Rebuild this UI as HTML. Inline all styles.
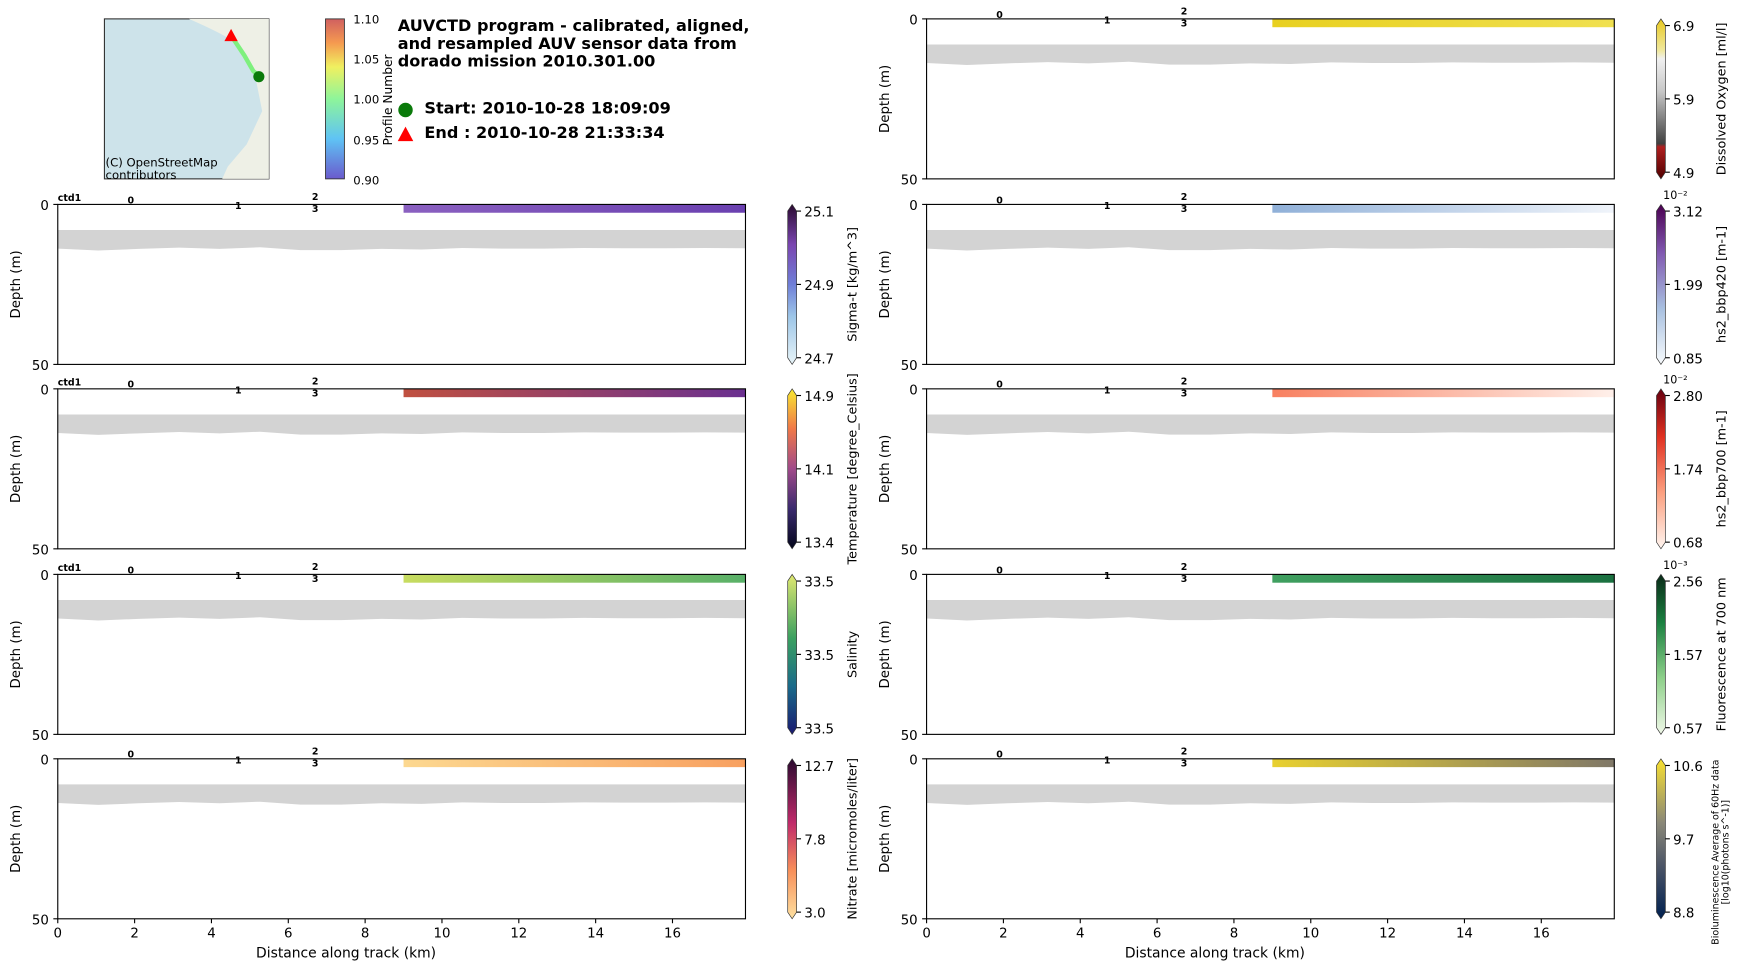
<!DOCTYPE html>
<html><head><meta charset="utf-8"><style>
body{margin:0;background:#fff;font-family:"Liberation Sans","DejaVu Sans",sans-serif;}
svg text{font-family:"DejaVu Sans","Liberation Sans",sans-serif;}
</style></head><body>
<svg id="fig" width="1741" height="972" xmlns="http://www.w3.org/2000/svg">
<defs>
<linearGradient id="gProf" x1="0" y1="1" x2="0" y2="0"><stop offset="0" stop-color="#6a5acd"/><stop offset="0.25" stop-color="#5fc3f5"/><stop offset="0.5" stop-color="#8ef59a"/><stop offset="0.7" stop-color="#f0f060"/><stop offset="0.85" stop-color="#f59a50"/><stop offset="1" stop-color="#d06060"/></linearGradient>
<linearGradient id="g0" x1="0" y1="1" x2="0" y2="0"><stop offset="0" stop-color="#e8f4f8"/><stop offset="0.3" stop-color="#9dc6e8"/><stop offset="0.5" stop-color="#6f7fd8"/><stop offset="0.75" stop-color="#7a45b0"/><stop offset="1" stop-color="#2a0a30"/></linearGradient>
<linearGradient id="g1" x1="0" y1="1" x2="0" y2="0"><stop offset="0" stop-color="#03051a"/><stop offset="0.25" stop-color="#3a2a6e"/><stop offset="0.5" stop-color="#a04a8a"/><stop offset="0.75" stop-color="#f07848"/><stop offset="1" stop-color="#f8e830"/></linearGradient>
<linearGradient id="g2" x1="0" y1="1" x2="0" y2="0"><stop offset="0" stop-color="#1a1a70"/><stop offset="0.3" stop-color="#1a6a8a"/><stop offset="0.6" stop-color="#3aa060"/><stop offset="1" stop-color="#e0e870"/></linearGradient>
<linearGradient id="g3" x1="0" y1="1" x2="0" y2="0"><stop offset="0" stop-color="#fde0a0"/><stop offset="0.3" stop-color="#f8905a"/><stop offset="0.6" stop-color="#c02a6a"/><stop offset="1" stop-color="#2a0a30"/></linearGradient>
<linearGradient id="g4" x1="0" y1="1" x2="0" y2="0"><stop offset="0" stop-color="#500000"/><stop offset="0.2" stop-color="#b02020"/><stop offset="0.22" stop-color="#404040"/><stop offset="0.55" stop-color="#c8c8c8"/><stop offset="0.75" stop-color="#f0f0f0"/><stop offset="0.8" stop-color="#f0e8a0"/><stop offset="1" stop-color="#e8c820"/></linearGradient>
<linearGradient id="g5" x1="0" y1="1" x2="0" y2="0"><stop offset="0" stop-color="#f8fbfd"/><stop offset="0.35" stop-color="#a8c0e0"/><stop offset="0.7" stop-color="#8058b0"/><stop offset="1" stop-color="#4a0050"/></linearGradient>
<linearGradient id="g6" x1="0" y1="1" x2="0" y2="0"><stop offset="0" stop-color="#fff5f0"/><stop offset="0.35" stop-color="#fca080"/><stop offset="0.7" stop-color="#e03020"/><stop offset="1" stop-color="#670010"/></linearGradient>
<linearGradient id="g7" x1="0" y1="1" x2="0" y2="0"><stop offset="0" stop-color="#f0f8e8"/><stop offset="0.35" stop-color="#8ed08a"/><stop offset="0.7" stop-color="#1a8040"/><stop offset="1" stop-color="#0a2a18"/></linearGradient>
<linearGradient id="g8" x1="0" y1="1" x2="0" y2="0"><stop offset="0" stop-color="#002050"/><stop offset="0.35" stop-color="#505868"/><stop offset="0.6" stop-color="#8a8878"/><stop offset="1" stop-color="#f8e030"/></linearGradient>
</defs>
<g transform="scale(1.111)">
<g>
<rect x="94" y="17" width="148" height="144" fill="#cde3ea" stroke="#333" stroke-width="1"/>
<path d="M94,17 L170,17 Q200,30 215,40 L230,70 L236,100 L222,130 L205,150 L200,161 L242,161 L242,17 Z" fill="#eef0e6"/>
<polyline points="208,32 220,50 228,64 234,69" stroke="#7ef07e" stroke-width="4" fill="none"/>
<polygon points="208,26 202,37 214,37" fill="#f00"/>
<circle cx="233" cy="69" r="5" fill="#0a7a0a"/>
<text x="95" y="150" font-size="10.5">(C) OpenStreetMap</text>
<text x="95" y="161" font-size="10.5">contributors</text>
</g>
<g>
<rect x="293" y="17" width="17" height="144" fill="url(#gProf)" stroke="#333" stroke-width="0.8"/>
<g font-size="10.5">
<text x="318" y="21">1.10</text><text x="318" y="57">1.05</text><text x="318" y="93">1.00</text><text x="318" y="130">0.95</text><text x="318" y="166">0.90</text>
</g>
<text transform="translate(353,90) rotate(-90)" font-size="11" text-anchor="middle">Profile Number</text>
</g>
<g font-weight="bold" font-size="14.5">
<text x="358" y="28">AUVCTD program - calibrated, aligned,</text>
<text x="358" y="44">and resampled AUV sensor data from</text>
<text x="358" y="60">dorado mission 2010.301.00</text>
<circle cx="365" cy="99" r="6.5" fill="#0a7a0a"/>
<text x="382" y="102">Start: 2010-10-28 18:09:09</text>
<polygon points="365,114 358,127 372,127" fill="#f00"/>
<text x="382" y="124">End  : 2010-10-28 21:33:34</text>
</g>
<g id="panels"></g>
</g>
</svg>
<script>
const xTicks=[0,2,4,6,8,10,12,14,16];
const xMax=17.9;
const profileDist=[1.9,4.7,6.7,6.7];
const profileLabels=["0","1","2","3"];
const bottomDepth=[13.8,14.4,13.9,13.5,13.9,13.4,14.3,14.3,13.9,14.1,13.6,13.8,13.8,13.6,13.7,13.7,13.6,13.7];
const panelNames=["sigma-t","temperature","salinity","nitrate","dissolved-oxygen","bbp420","bbp700","fluorescence","bioluminescence"];
const cbTicks=[["25.1","24.9","24.7"],["14.9","14.1","13.4"],["33.5","33.5","33.5"],["12.7","7.8","3.0"],["6.9","5.9","4.9"],["3.12","1.99","0.85"],["2.80","1.74","0.68"],["2.56","1.57","0.57"],["10.6","9.7","8.8"]];
const cbLabels=["Sigma-t [kg/m^3]","Temperature [degree_Celsius]","Salinity","Nitrate [micromoles/liter]","Dissolved Oxygen [ml/l]","hs2_bbp420 [m-1]","hs2_bbp700 [m-1]","Fluorescence at 700 nm",""];
const exps=["","","","","","10\u207B\u00B2","10\u207B\u00B2","10\u207B\u00B3",""];
const dataColors=[["#8a60c0","#6a40b0"],["#c05040","#6a3090"],["#c8dc60","#58b068"],["#fcd890","#f8a060"],["#e8d020","#f0e050"],["#90b0d8","#f0f4fa"],["#f88060","#fff0ea"],["#40a060","#1a7040"],["#e8d030","#807868"]];
const layout=[[52,184],[52,350],[52,517],[52,683],[834,17],[834,184],[834,350],[834,517],[834,683]];
const W=619,H=144;
const ns="http://www.w3.org/2000/svg";
const root=document.getElementById('panels');
function mk(t,a,p){const e=document.createElementNS(ns,t);for(const k in a)e.setAttribute(k,a[k]);(p||root).appendChild(e);return e;}
function txt(p,x,y,s,a){const e=mk('text',Object.assign({x:x,y:y},a||{}),p);e.textContent=s;return e;}
layout.forEach((L,i)=>{
 const [x0,y0]=L;
 const sx=v=>x0+v/xMax*W, sy=d=>y0+d/50*H;
 const g=mk('g',{});
 
 
 let pts=`${sx(0)},${sy(8)} ${sx(xMax)},${sy(8)} `;
 for(let k=bottomDepth.length-1;k>=0;k--){pts+=`${sx(k*xMax/(bottomDepth.length-1))},${sy(bottomDepth[k])} `;}
 const band=mk('polygon',{points:pts,fill:'#d3d3d3'},g);
 
 
 const c=dataColors[i];
 const gid='dg'+i;
 const lg=mk('linearGradient',{id:gid,x1:0,y1:0,x2:1,y2:0},g);
 mk('stop',{offset:0,'stop-color':c[0]},lg);mk('stop',{offset:1,'stop-color':c[1]},lg);
 const strip=mk('rect',{x:sx(9),y:sy(0),width:sx(xMax)-sx(9),height:sy(2.6)-sy(0),fill:'url(#'+gid+')'},g);
 
 
 mk('rect',{x:x0,y:y0,width:W,height:H,fill:'none',stroke:'#000','stroke-width':1},g);
 const offs=[-1,1,-4,7];
 profileDist.forEach((d,k)=>{const t=txt(g,sx(d),y0+offs[k]+(k==1?3:0),profileLabels[k],{'font-size':8.5,'font-weight':'bold','text-anchor':'middle'});
  
  });
 if(i<3){txt(g,x0,y0-3,'ctd1',{'font-size':8.5,'font-weight':'bold'});}
 mk('line',{x1:x0-4,y1:y0,x2:x0,y2:y0,stroke:'#000'},g);mk('line',{x1:x0-4,y1:y0+H,x2:x0,y2:y0+H,stroke:'#000'},g);
 txt(g,x0-8,y0+5,'0',{'font-size':12,'text-anchor':'end'});txt(g,x0-8,y0+H+5,'50',{'font-size':12,'text-anchor':'end'});
 txt(g,0,0,'Depth (m)',{'font-size':12,'text-anchor':'middle',transform:`translate(${x0-34},${y0+H/2}) rotate(-90)`});
 if(i==3||i==8){
  xTicks.forEach(t=>{mk('line',{x1:sx(t),y1:y0+H,x2:sx(t),y2:y0+H+4,stroke:'#000'},g);txt(g,sx(t),y0+H+17,String(t),{'font-size':12,'text-anchor':'middle'});});
  txt(g,x0+W/2-50,y0+H+35,'Distance along track (km)',{'font-size':12.5,'text-anchor':'middle'});
 }
 const cx=x0+W+38, cw=8;
 const cb=mk('g',{},g);
 
 
 mk('polygon',{points:`${cx},${y0+6} ${cx+cw/2},${y0} ${cx+cw},${y0+6} ${cx+cw},${y0+H-6} ${cx+cw/2},${y0+H} ${cx},${y0+H-6}`,fill:'url(#g'+i+')',stroke:'#333','stroke-width':0.6},cb);
 const tp=[y0+6,y0+H/2,y0+H-6];
 cbTicks[i].forEach((s,k)=>{mk('line',{x1:cx+cw,y1:tp[k],x2:cx+cw+4,y2:tp[k],stroke:'#000'},cb);txt(cb,cx+cw+7,tp[k]+5,s,{'font-size':12});});
 if(exps[i])txt(cb,cx+cw-2,y0-5,exps[i],{'font-size':10});
 if(cbLabels[i])txt(cb,0,0,cbLabels[i],{'font-size':11.5,'text-anchor':'middle',transform:`translate(${cx+62},${y0+H/2}) rotate(-90)`});
 else{txt(cb,0,0,'Bioluminescence Average of 60Hz data',{'font-size':8.5,'text-anchor':'middle',transform:`translate(${cx+56},${y0+H/2+12}) rotate(-90)`});
  txt(cb,0,0,'[log10(photons s^-1)]',{'font-size':8.5,'text-anchor':'middle',transform:`translate(${cx+65},${y0+H/2+12}) rotate(-90)`});}
});
</script>
</body></html>
